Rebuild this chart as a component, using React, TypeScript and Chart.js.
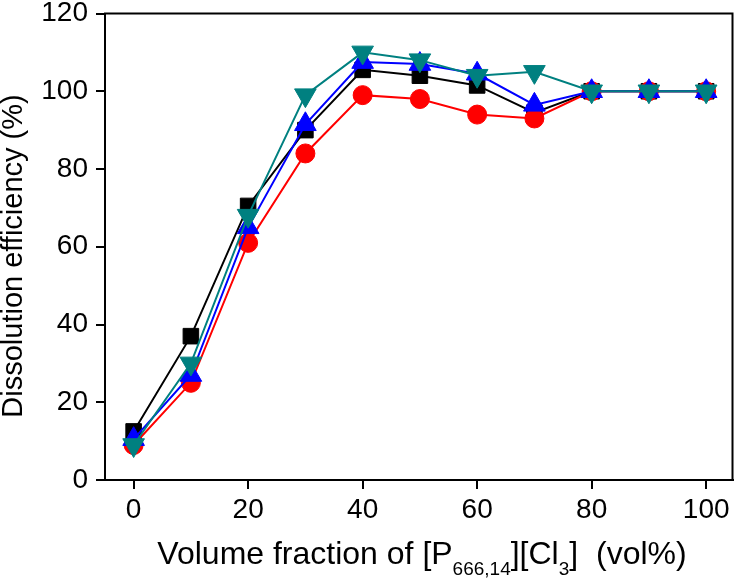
import React, { useEffect, useRef } from 'react';
import { Chart, registerables } from 'chart.js';
Chart.register(...registerables);

const xValues = [0, 10, 20, 30, 40, 50, 60, 70, 80, 90, 100];
const blackSquares = [12.5, 37, 70.5, 90, 105.5, 104, 101.5, 94.5, 100, 100, 100];
const redCircles = [9, 25, 61, 84, 99, 98, 94, 93, 100, 100, 100];
const blueUpTriangles = [10.5, 27, 65, 91.5, 107.5, 107, 104.5, 96.5, 100, 100, 100];
const tealDownTriangles = [9, 30, 68, 99, 110, 108, 104, 105, 100, 100, 100];
const xTicks = [0, 20, 40, 60, 80, 100];
const yTicks = [0, 20, 40, 60, 80, 100, 120];

const FONT = '"Liberation Sans", Arial, sans-serif';

const mk = (vals: number[]) => vals.map((v, i) => ({ x: xValues[i], y: v }));

export default function App() {
  const ref = useRef<HTMLCanvasElement | null>(null);
  useEffect(() => {
    document.body.style.margin = '0';
    const titles = {
      id: 'titles',
      afterDraw(chart: any) {
        const ctx = chart.ctx;
        const a = chart.chartArea;
        ctx.save();
        ctx.strokeStyle = '#000';
        ctx.lineWidth = 2;
        ctx.strokeRect(a.left, a.top, a.right - a.left, a.bottom - a.top);
        ctx.fillStyle = '#000';
        // y title
        ctx.save();
        ctx.translate(22, 256);
        ctx.rotate(-Math.PI / 2);
        ctx.font = `29px ${FONT}`;
        ctx.textAlign = 'center';
        ctx.textBaseline = 'alphabetic';
        ctx.fillText('Dissolution efficiency (%)', 0, 0);
        ctx.restore();
        // x title with subscripts
        const parts: [string, boolean][] = [
          ['Volume fraction of [P', false],
          ['666,14', true],
          ['][Cl', false],
          ['3', true],
          [']  (vol%)', false],
        ];
        const main = `32px ${FONT}`;
        const sub = `19px ${FONT}`;
        let total = 0;
        for (const [t, s] of parts) {
          ctx.font = s ? sub : main;
          total += ctx.measureText(t).width;
        }
        let x = 422 - total / 2;
        const base = 564;
        ctx.textAlign = 'left';
        ctx.textBaseline = 'alphabetic';
        for (const [t, s] of parts) {
          ctx.font = s ? sub : main;
          ctx.fillText(t, x, s ? base + 11 : base);
          x += ctx.measureText(t).width;
        }
        ctx.restore();
      },
    };
    const chart = new Chart(ref.current as HTMLCanvasElement, {
      type: 'line',
      data: {
        datasets: [
          {
            data: mk(blackSquares),
            borderColor: '#000000',
            backgroundColor: '#000000',
            pointStyle: 'rect',
            pointRadius: 11,
            borderWidth: 2,
            pointBorderWidth: 1,
            order: 4,
          },
          {
            data: mk(redCircles),
            borderColor: '#ff0000',
            backgroundColor: '#ff0000',
            pointStyle: 'circle',
            pointRadius: 9.5,
            borderWidth: 2,
            pointBorderWidth: 1,
            order: 3,
          },
          {
            data: mk(blueUpTriangles),
            borderColor: '#0000ff',
            backgroundColor: '#0000ff',
            pointStyle: 'triangle',
            pointRadius: 12.5,
            borderWidth: 2,
            pointBorderWidth: 1,
            order: 2,
          },
          {
            data: mk(tealDownTriangles),
            borderColor: '#008080',
            backgroundColor: '#008080',
            pointStyle: 'triangle',
            pointRotation: 180,
            pointRadius: 12.5,
            borderWidth: 2,
            pointBorderWidth: 1,
            order: 1,
          },
        ] as any,
      },
      plugins: [titles],
      options: {
        animation: false,
        responsive: false,
        events: [],
        layout: { padding: { top: 13, right: 4, left: 0, bottom: 0 } },
        plugins: { legend: { display: false }, tooltip: { enabled: false } },
        scales: {
          x: {
            type: 'linear',
            min: -5,
            max: 104.6,
            afterBuildTicks: (s: any) => {
              s.ticks = xTicks.map((v) => ({ value: v }));
            },
            afterFit: (s: any) => {
              s.height = 99;
              s.paddingLeft = 0;
              s.paddingRight = 0;
            },
            grid: { drawOnChartArea: false, drawTicks: true, tickLength: 9, color: '#000', lineWidth: 2 },
            border: { display: true, color: '#000', width: 2 },
            ticks: { color: '#000', font: { family: FONT, size: 28 }, padding: 4, maxRotation: 0 },
          },
          y: {
            type: 'linear',
            min: 0,
            max: 120,
            afterBuildTicks: (s: any) => {
              s.ticks = yTicks.map((v) => ({ value: v }));
            },
            afterFit: (s: any) => {
              s.width = 105;
              s.paddingTop = 0;
              s.paddingBottom = 0;
            },
            grid: { drawOnChartArea: false, drawTicks: true, tickLength: 9, color: '#000', lineWidth: 2 },
            border: { display: true, color: '#000', width: 2 },
            ticks: { color: '#000', font: { family: FONT, size: 28 }, padding: 8 },
          },
        },
      } as any,
    });
    return () => chart.destroy();
  }, []);
  return (
    <div style={{ position: 'absolute', left: 0, top: 0, width: 746, height: 579, background: '#fff' }}>
      <canvas ref={ref} width={746} height={579} style={{ width: 746, height: 579 }} />
    </div>
  );
}
